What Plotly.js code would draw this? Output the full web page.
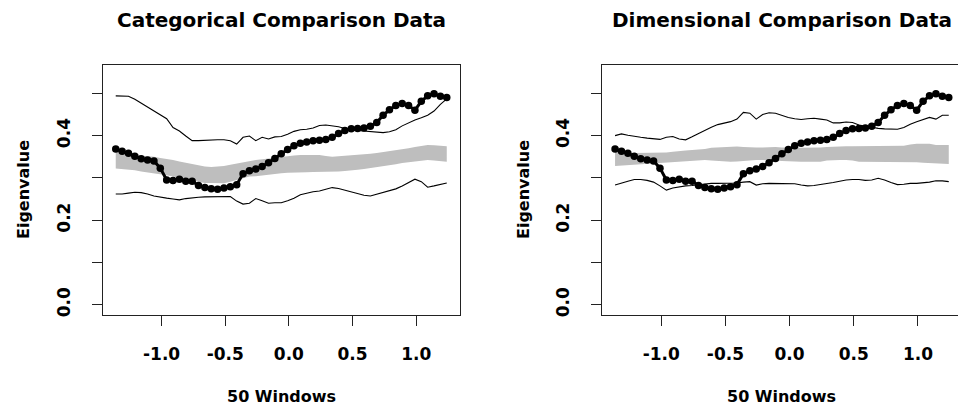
<!DOCTYPE html>
<html>
<head>
<meta charset="utf-8">
<script src="https://cdn.plot.ly/plotly-3.0.1.min.js"></script>
<style>
  html, body { margin: 0; padding: 0; background: #fff; }
  #chart { width: 958px; height: 409px; }
</style>
</head>
<body>
<div id="chart"></div>
<script>
// Window positions (standardised) shared by every series
const windows = [-1.36, -1.31, -1.26, -1.21, -1.16, -1.11, -1.06, -1.01, -0.96, -0.91,
  -0.86, -0.81, -0.76, -0.71, -0.66, -0.61, -0.56, -0.51, -0.46, -0.41,
  -0.36, -0.31, -0.26, -0.21, -0.16, -0.11, -0.06, -0.01, 0.04, 0.09,
  0.14, 0.19, 0.24, 0.29, 0.34, 0.39, 0.44, 0.49, 0.54, 0.59,
  0.64, 0.69, 0.74, 0.79, 0.84, 0.89, 0.94, 0.99, 1.04, 1.09,
  1.14, 1.19, 1.24];

// Observed eigenvalue per window (same in both panels)
const observed = [0.368, 0.363, 0.358, 0.351, 0.345, 0.342, 0.340, 0.323, 0.295, 0.294,
  0.297, 0.292, 0.292, 0.282, 0.277, 0.274, 0.273, 0.276, 0.279, 0.284,
  0.310, 0.317, 0.321, 0.327, 0.336, 0.346, 0.357, 0.367, 0.376, 0.382,
  0.385, 0.388, 0.389, 0.391, 0.396, 0.405, 0.412, 0.416, 0.417, 0.418,
  0.422, 0.431, 0.448, 0.461, 0.471, 0.476, 0.471, 0.460, 0.481, 0.494,
  0.499, 0.493, 0.490];

// Categorical comparison: outer envelope and central band
const catUpper = [0.494, 0.494, 0.493, 0.486, 0.477, 0.468, 0.459, 0.450, 0.440, 0.419,
  0.411, 0.399, 0.388, 0.388, 0.389, 0.389, 0.390, 0.390, 0.388, 0.380,
  0.396, 0.399, 0.388, 0.396, 0.392, 0.397, 0.398, 0.403, 0.410, 0.414,
  0.415, 0.418, 0.424, 0.425, 0.423, 0.421, 0.417, 0.413, 0.412, 0.411,
  0.409, 0.408, 0.407, 0.409, 0.414, 0.423, 0.431, 0.437, 0.442, 0.448,
  0.458, 0.474, 0.487];
const catLower = [0.262, 0.262, 0.264, 0.266, 0.265, 0.262, 0.257, 0.254, 0.252, 0.250,
  0.248, 0.251, 0.253, 0.254, 0.255, 0.255, 0.255, 0.256, 0.256, 0.245,
  0.238, 0.240, 0.251, 0.246, 0.240, 0.241, 0.241, 0.246, 0.252, 0.260,
  0.264, 0.267, 0.269, 0.273, 0.277, 0.275, 0.271, 0.267, 0.263, 0.259,
  0.257, 0.261, 0.265, 0.269, 0.274, 0.281, 0.290, 0.297, 0.291, 0.278,
  0.281, 0.285, 0.288];
const catBandHi = [0.362, 0.360, 0.357, 0.354, 0.353, 0.351, 0.350, 0.347, 0.345, 0.342,
  0.339, 0.336, 0.333, 0.330, 0.327, 0.326, 0.327, 0.328, 0.331, 0.334,
  0.337, 0.340, 0.342, 0.344, 0.346, 0.348, 0.350, 0.351, 0.353, 0.354,
  0.354, 0.354, 0.354, 0.352, 0.350, 0.351, 0.352, 0.353, 0.354, 0.355,
  0.357, 0.359, 0.361, 0.363, 0.366, 0.368, 0.370, 0.373, 0.375, 0.378,
  0.377, 0.376, 0.375];
const catBandLo = [0.322, 0.321, 0.319, 0.318, 0.315, 0.313, 0.311, 0.308, 0.306, 0.303,
  0.300, 0.296, 0.293, 0.291, 0.288, 0.288, 0.287, 0.287, 0.291, 0.295,
  0.299, 0.303, 0.304, 0.306, 0.307, 0.309, 0.311, 0.312, 0.312, 0.313,
  0.313, 0.314, 0.314, 0.314, 0.314, 0.315, 0.316, 0.317, 0.319, 0.321,
  0.323, 0.325, 0.327, 0.330, 0.332, 0.335, 0.337, 0.339, 0.340, 0.342,
  0.341, 0.339, 0.338];

// Dimensional comparison: outer envelope and central band
const dimUpper = [0.400, 0.404, 0.401, 0.398, 0.396, 0.394, 0.393, 0.391, 0.396, 0.398,
  0.392, 0.390, 0.397, 0.405, 0.412, 0.420, 0.426, 0.430, 0.433, 0.439,
  0.455, 0.453, 0.439, 0.450, 0.454, 0.453, 0.448, 0.443, 0.440, 0.438,
  0.440, 0.441, 0.439, 0.437, 0.430, 0.430, 0.432, 0.431, 0.425, 0.422,
  0.420, 0.417, 0.416, 0.415, 0.415, 0.419, 0.427, 0.433, 0.438, 0.443,
  0.439, 0.448, 0.448];
const dimLower = [0.283, 0.288, 0.292, 0.296, 0.296, 0.294, 0.290, 0.281, 0.271, 0.276,
  0.279, 0.281, 0.282, 0.284, 0.286, 0.287, 0.287, 0.287, 0.288, 0.288,
  0.290, 0.291, 0.283, 0.286, 0.287, 0.287, 0.287, 0.287, 0.286, 0.283,
  0.281, 0.282, 0.284, 0.286, 0.289, 0.292, 0.295, 0.296, 0.296, 0.294,
  0.295, 0.299, 0.295, 0.289, 0.284, 0.285, 0.287, 0.287, 0.288, 0.290,
  0.293, 0.293, 0.291];
const dimBandHi = [0.362, 0.360, 0.359, 0.359, 0.359, 0.359, 0.359, 0.359, 0.360, 0.362,
  0.364, 0.365, 0.366, 0.367, 0.368, 0.371, 0.372, 0.373, 0.374, 0.374,
  0.373, 0.372, 0.372, 0.372, 0.373, 0.373, 0.372, 0.371, 0.371, 0.371,
  0.371, 0.372, 0.372, 0.373, 0.374, 0.375, 0.375, 0.375, 0.375, 0.375,
  0.375, 0.375, 0.375, 0.375, 0.375, 0.376, 0.379, 0.381, 0.381, 0.381,
  0.378, 0.378, 0.378];
const dimBandLo = [0.328, 0.329, 0.330, 0.331, 0.332, 0.333, 0.334, 0.335, 0.336, 0.338,
  0.339, 0.340, 0.341, 0.342, 0.342, 0.341, 0.340, 0.339, 0.338, 0.339,
  0.340, 0.342, 0.342, 0.342, 0.342, 0.341, 0.340, 0.339, 0.338, 0.338,
  0.338, 0.338, 0.338, 0.341, 0.342, 0.342, 0.342, 0.341, 0.338, 0.338,
  0.338, 0.338, 0.338, 0.338, 0.338, 0.338, 0.338, 0.337, 0.336, 0.335,
  0.334, 0.334, 0.333];

// Axis ticks and labels
const xTickVals = [-1.0, -0.5, 0.0, 0.5, 1.0];
const xTickText = ['-1.0', '-0.5', '0.0', '0.5', '1.0'];
const yTickVals = [0.0, 0.1, 0.2, 0.3, 0.4, 0.5];
const yTickText = ['0.0', '', '0.2', '', '0.4', ''];

const panelTitles = ['Categorical Comparison Data', 'Dimensional Comparison Data'];
const xLabel = '50 Windows';
const yLabel = 'Eigenvalue';

const W = 958, H = 409;
const FONT = 'DejaVu Sans, Liberation Sans, Arial, sans-serif';
const BAND = '#bebebe';

function panelTraces(xa, ya, bandLo, bandHi, upper, lower) {
  return [
    { x: windows, y: bandLo, xaxis: xa, yaxis: ya, type: 'scatter', mode: 'lines',
      line: { width: 0, color: BAND }, hoverinfo: 'skip', showlegend: false },
    { x: windows, y: bandHi, xaxis: xa, yaxis: ya, type: 'scatter', mode: 'lines',
      fill: 'tonexty', fillcolor: BAND, line: { width: 0, color: BAND },
      hoverinfo: 'skip', showlegend: false },
    { x: windows, y: upper, xaxis: xa, yaxis: ya, type: 'scatter', mode: 'lines',
      line: { width: 1.1, color: '#000' }, showlegend: false },
    { x: windows, y: lower, xaxis: xa, yaxis: ya, type: 'scatter', mode: 'lines',
      line: { width: 1.1, color: '#000' }, showlegend: false },
    { x: windows, y: observed, xaxis: xa, yaxis: ya, type: 'scatter', mode: 'lines+markers',
      line: { width: 3, color: '#000' }, marker: { size: 7.5, color: '#000' },
      showlegend: false }
  ];
}

const data = [].concat(
  panelTraces('x', 'y', catBandLo, catBandHi, catUpper, catLower),
  panelTraces('x2', 'y2', dimBandLo, dimBandHi, dimUpper, dimLower)
);

const yDomain = [1 - 315 / H, 1 - 65 / H];
const tickFont = { family: FONT, size: 17, color: '#000', weight: 'bold' };

function xAxis(domain, range, anchor) {
  return {
    domain: domain, range: range, anchor: anchor,
    tickmode: 'array', tickvals: xTickVals, ticktext: xTickText,
    ticks: 'outside', ticklen: 10, tickwidth: 1, tickcolor: '#222',
    ticklabelstandoff: 14,
    showline: true, mirror: true, linecolor: '#222', linewidth: 1,
    showgrid: false, zeroline: false, tickfont: tickFont, fixedrange: true
  };
}
function yAxis(anchor) {
  return {
    domain: yDomain, range: [-0.0244, 0.567], anchor: anchor,
    tickmode: 'array', tickvals: yTickVals, ticktext: yTickText, tickangle: -90,
    ticks: 'outside', ticklen: 10, tickwidth: 1, tickcolor: '#222',
    ticklabelstandoff: 15,
    showline: true, mirror: true, linecolor: '#222', linewidth: 1,
    showgrid: false, zeroline: false, tickfont: tickFont, fixedrange: true
  };
}

const leftDom = [102.5 / W, 460 / W];
const rightDom = [601.7 / W, 1];

const leftCx = (102.5 + 460) / 2;
const rightCx = (601.7 + 962) / 2;

function ann(text, px, py, size, angle) {
  return {
    text: text, xref: 'paper', yref: 'paper', x: px / W, y: 1 - py / H,
    xanchor: 'center', yanchor: 'middle', showarrow: false, textangle: angle || 0,
    font: { family: FONT, size: size, color: '#000', weight: 'bold' }
  };
}

const layout = {
  width: W, height: H,
  margin: { l: 0, r: 0, t: 0, b: 0 },
  paper_bgcolor: '#fff', plot_bgcolor: '#fff',
  xaxis: xAxis(leftDom, [-1.464, 1.344], 'y'),
  yaxis: yAxis('x'),
  xaxis2: xAxis(rightDom, [-1.464, 1.312], 'y2'),
  yaxis2: yAxis('x2'),
  annotations: [
    ann(panelTitles[0], leftCx, 20, 20),
    ann(panelTitles[1], rightCx, 20, 20),
    ann(xLabel, leftCx, 396, 16),
    ann(xLabel, rightCx, 396, 16),
    ann(yLabel, 23, 190, 16, -90),
    ann(yLabel, 523, 190, 16, -90)
  ]
};

Plotly.newPlot('chart', data, layout, { staticPlot: true, displayModeBar: false });
</script>
</body>
</html>
